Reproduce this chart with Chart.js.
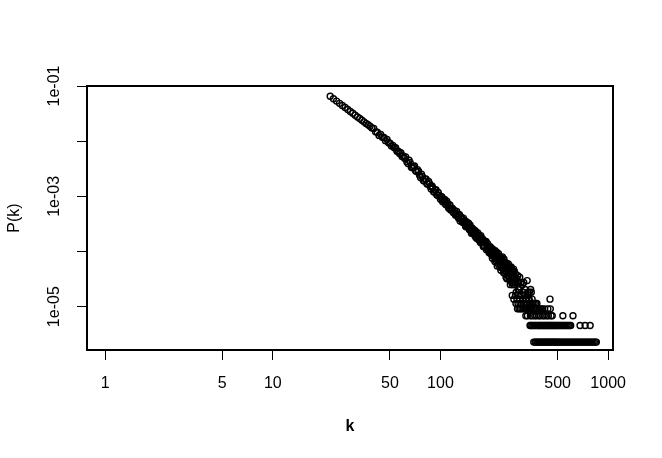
<!DOCTYPE html>
<html>
<head>
<meta charset="utf-8">
<script src="https://cdn.jsdelivr.net/npm/chart.js@4/dist/chart.umd.min.js"></script>
<style>
  html, body { margin: 0; padding: 0; background: #fff; }
  #wrap { width: 662px; height: 458px; position: relative; }
</style>
</head>
<body>
<div id="wrap"><canvas id="chart"></canvas></div>
<script>
// degree k and probability P(k)
const kMain = [
  22, 23, 24, 25, 26, 27, 28, 29, 30, 31, 32, 33, 34, 35, 36, 37, 38, 39, 40,
  41, 42, 43, 44, 45, 46, 47, 48, 49, 50, 51, 52, 53, 54, 55, 56, 57, 58, 59, 60,
  62, 64, 66, 68, 70, 72, 74, 76, 78, 80, 82, 84, 86, 88, 90, 92, 94, 96, 98, 100,
  102, 104, 106, 108, 110, 112, 114, 116, 118, 120,
  122, 124, 126, 128, 130, 132, 134, 136, 138, 140, 142, 144, 146, 148, 150,
  152, 154, 156, 158, 160, 162, 164, 166, 168, 170, 172, 174, 176, 178,
  180, 181, 183, 184, 186, 187, 189, 190, 192, 193, 195, 196, 198, 199,
  201, 203, 205, 207, 209, 211, 213, 215, 217, 219,
  221, 223, 225, 227, 229, 231, 233, 235, 237, 239,
  241, 243, 245, 247, 249, 251, 253, 255, 257, 259,
  261, 263, 265, 267, 269, 271, 273, 275, 277, 279,
  281, 283, 285, 287, 289, 291, 293, 295, 297, 299,
  302, 305, 308, 311, 314, 317, 320, 326, 329, 332, 336, 339, 345, 348
];
const pMain = [
  0.0650, 0.0587, 0.0532, 0.0485, 0.0444, 0.0407, 0.0374, 0.0345, 0.0320, 0.0296,
  0.0275, 0.0257, 0.0240, 0.0224, 0.0210, 0.0198, 0.0186, 0.0174, 0.01703,
  0.01475, 0.01452, 0.01273, 0.01324, 0.01177, 0.01164, 0.01022, 0.01074, 0.00939, 0.00920,
  0.00817, 0.00839, 0.00758, 0.00758, 0.00657, 0.00661, 0.00598, 0.00615, 0.00530, 0.00540,
  0.005188, 0.003944, 0.004089, 0.003295, 0.003555, 0.002818, 0.002853, 0.002194, 0.002282, 0.001891,
  0.002069, 0.001662, 0.001703, 0.001358, 0.001429, 0.001197, 0.001324, 0.001050, 0.001051, 0.000885,
  0.000977, 0.000837, 0.000882, 0.000701, 0.000749, 0.000610, 0.000692, 0.000582, 0.000605, 0.000505,
  5.42e-4, 4.68e-4, 4.73e-4, 4.07e-4, 4.58e-4, 3.93e-4, 3.95e-4, 3.38e-4, 3.37e-4, 3.60e-4,
  2.82e-4, 3.18e-4, 2.92e-4, 2.59e-4, 3.04e-4,
  2.44e-4, 2.67e-4, 2.11e-4, 2.29e-4, 2.04e-4, 2.34e-4, 1.74e-4, 2.01e-4, 1.82e-4, 1.93e-4,
  1.56e-4, 1.94e-4, 1.53e-4, 1.53e-4,
  1.23e-4, 1.55e-4, 1.51e-4, 1.21e-4, 1.49e-4, 1.52e-4, 1.14e-4, 1.19e-4, 1.23e-4, 1.22e-4,
  9.5e-5, 9.75e-5, 1.22e-4, 1.07e-4,
  1.07e-4, 8.45e-5, 1.10e-4, 8.68e-5, 9.13e-5, 6.62e-5, 9.13e-5, 7.31e-5, 9.59e-5, 7.31e-5,
  5.94e-5, 8.22e-5, 6.39e-5, 7.08e-5, 4.57e-5, 7.76e-5, 5.25e-5, 6.39e-5, 5.48e-5, 7.31e-5,
  4.11e-5, 5.25e-5, 4.34e-5, 5.71e-5, 3.20e-5, 5.02e-5, 4.11e-5, 5.25e-5, 3.42e-5, 4.34e-5,
  2.51e-5, 5.02e-5, 3.42e-5, 4.34e-5, 2.51e-5, 3.42e-5, 4.79e-5, 2.51e-5, 3.42e-5, 2.74e-5,
  3.88e-5, 1.83e-5, 3.20e-5, 2.74e-5, 3.65e-5, 2.05e-5, 2.74e-5, 2.05e-5, 3.42e-5, 2.28e-5,
  2.74e-5, 1.60e-5, 2.51e-5, 1.83e-5, 2.74e-5, 1.60e-5, 2.05e-5, 1.37e-5, 2.97e-5, 1.83e-5,
  1.37e-5, 1.83e-5, 2.05e-5, 1.83e-5
];

// the degrees in between, where the band gets thick
const kMid = [
  61, 63, 65, 67, 69, 71, 73, 75, 77, 79, 81, 83, 85, 87, 89, 91, 93, 95, 97, 99,
  101, 103, 105, 107, 109, 111, 113, 115, 117, 119, 121,
  123, 125, 127, 129, 131, 133, 135, 137, 139, 141, 143, 145, 147, 149,
  151, 153, 155, 157, 159, 161, 163, 165, 167, 169, 171, 173, 175, 177,
  179, 182, 185, 188, 191, 194, 197,
  200, 202, 204, 206, 208, 210, 212, 214, 216, 218,
  220, 222, 224, 226, 228, 230, 232, 234, 236, 238,
  240, 242, 244, 246, 248, 250, 252, 254, 256, 258,
  260, 262, 264, 266, 270, 272, 276, 278, 284
];
const pMid = [
  0.004907, 0.004254, 0.004506, 0.003351, 0.003442, 0.002918, 0.003053, 0.002427, 0.002524, 0.001928,
  0.002034, 0.001690, 0.001855, 0.001513, 0.001537, 0.001214, 0.001297, 0.001064, 0.001177, 0.000971,
  0.000995, 0.000796, 0.000849, 0.000730, 0.000816, 0.000664, 0.000703, 0.000566, 0.000594, 0.000513, 0.000552,
  4.56e-4, 5.33e-4, 4.32e-4, 4.71e-4, 3.56e-4, 4.18e-4, 3.43e-4, 4.03e-4, 3.30e-4, 2.89e-4,
  3.43e-4, 2.79e-4, 3.25e-4, 2.47e-4,
  2.69e-4, 2.14e-4, 2.59e-4, 2.19e-4, 2.47e-4, 1.87e-4, 2.15e-4, 1.82e-4, 2.16e-4, 1.63e-4,
  1.78e-4, 1.46e-4, 1.78e-4, 1.51e-4,
  1.68e-4, 1.24e-4, 1.44e-4, 1.08e-4, 1.39e-4, 1.04e-4, 1.13e-4,
  9.13e-5, 1.14e-4, 7.53e-5, 9.59e-5, 1.03e-4, 7.99e-5, 1.03e-4, 6.85e-5, 7.99e-5, 5.48e-5,
  7.99e-5, 9.13e-5, 6.62e-5, 5.25e-5, 7.53e-5, 6.85e-5, 5.02e-5, 7.99e-5, 5.48e-5, 4.11e-5,
  5.94e-5, 6.39e-5, 4.57e-5, 3.42e-5, 6.16e-5, 4.79e-5, 3.65e-5, 5.94e-5, 3.88e-5, 4.79e-5,
  2.97e-5, 4.11e-5, 5.25e-5, 2.74e-5, 4.34e-5, 2.74e-5, 4.34e-5, 2.74e-5, 3.20e-5
];

// tail: degrees seen only a few times, one list per P level
const rowP = [2.28e-6, 4.57e-6, 6.85e-6, 9.13e-6, 1.14e-5, 1.37e-5, 1.60e-5];
const kSeen1 = [360, 367, 371, 378, 384, 390, 395, 402, 407, 414, 420, 427, 433, 439, 446, 453,
  459, 466, 472, 479, 486, 494, 501, 509, 517, 526, 535, 544, 554, 564, 574, 584, 594, 604,
  614, 625, 636, 647, 658, 670, 682, 694, 706, 719, 732, 745, 758, 771, 785, 799, 813, 827, 841, 851];
const kSeen2 = [342, 346, 351, 357, 363, 368, 375, 382, 387, 392, 399, 404, 411, 417, 423, 430,
  436, 443, 448, 455, 461, 468, 475, 482, 490, 498, 506, 514, 523, 532, 541, 550, 560, 569,
  579, 589, 598, 680, 729, 781];
const kSeen3 = [323, 330, 344, 353, 365, 373, 386, 393, 408, 416, 431, 440, 457, 464, 537, 617];
const kSeen4 = [288, 294, 300, 306, 313, 321, 327, 335, 343, 349, 358, 366, 372, 381, 389, 397, 405, 418, 437, 452];
const kSeen5 = [282, 290, 298, 304, 312, 319, 325, 331, 341, 347, 355, 362, 370, 376];
const kSeen6 = [274, 286, 296, 310, 322, 338, 352, 450];
const kSeen7 = [268, 280, 292, 318, 334];

const xTicks = [1, 5, 10, 50, 100, 500, 1000];
const xTickLabels = ["1", "5", "10", "50", "100", "500", "1000"];
const yTicks = [1e-5, 1e-4, 1e-3, 1e-2, 1e-1];
const yTickLabels = ["1e-05", "", "1e-03", "", "1e-01"];
const xMin = 0.78, xMax = 1069;
const yMin = 1.64e-6, yMax = 0.1;

const points = kMain.map((k, i) => ({ x: k, y: pMain[i] }))
  .concat(kMid.map((k, i) => ({ x: k, y: pMid[i] })));
[kSeen1, kSeen2, kSeen3, kSeen4, kSeen5, kSeen6, kSeen7].forEach((ks, r) => {
  ks.forEach(k => points.push({ x: k, y: rowP[r] }));
});
if (kMain.length !== pMain.length || kMid.length !== pMid.length) {
  console.error("length mismatch", kMain.length, pMain.length, kMid.length, pMid.length);
}

const font = "'Liberation Sans', Arial, Helvetica, sans-serif";

const plotBox = {
  id: "plotBox",
  afterDraw(chart) {
    const { ctx, chartArea: a } = chart;
    ctx.save();
    ctx.strokeStyle = "#000";
    ctx.lineWidth = 2;
    ctx.strokeRect(a.left, a.top, a.right - a.left, a.bottom - a.top);
    ctx.restore();
  }
};

new Chart(document.getElementById("chart"), {
  type: "scatter",
  data: {
    datasets: [{
      data: points,
      pointStyle: "circle",
      pointRadius: 3,
      pointHoverRadius: 3,
      borderWidth: 1.4,
      borderColor: "#000",
      backgroundColor: "rgba(0,0,0,0)"
    }]
  },
  options: {
    responsive: true,
    maintainAspectRatio: false,
    animation: false,
    events: [],
    layout: { padding: { top: 86, right: 49, bottom: 0, left: 0 } },
    plugins: { legend: { display: false }, tooltip: { enabled: false } },
    scales: {
      x: {
        type: "logarithmic",
        position: "bottom",
        min: xMin,
        max: xMax,
        afterBuildTicks: (s) => { s.ticks = xTicks.map(v => ({ value: v })); },
        afterFit: (s) => { s.height = 108; },
        ticks: {
          autoSkip: false, minRotation: 0, maxRotation: 0, padding: 14, color: "#000",
          font: { family: font, size: 16 },
          callback: (v, i) => xTickLabels[i]
        },
        grid: { drawOnChartArea: false, drawTicks: true, tickLength: 10, color: "#000", lineWidth: 1 },
        border: { display: false },
        title: {
          display: true, text: "k", color: "#000",
          font: { family: font, size: 16, weight: "bold" },
          padding: { top: 0, bottom: 22 }
        }
      },
      y: {
        type: "logarithmic",
        position: "left",
        min: yMin,
        max: yMax,
        afterBuildTicks: (s) => { s.ticks = yTicks.map(v => ({ value: v })); },
        afterFit: (s) => { s.width = 87; },
        ticks: {
          autoSkip: false, minRotation: 90, maxRotation: 90, crossAlign: "center", padding: 2, color: "#000",
          font: { family: font, size: 16 },
          callback: (v, i) => yTickLabels[i]
        },
        grid: { drawOnChartArea: false, drawTicks: true, tickLength: 10, color: "#000", lineWidth: 1 },
        border: { display: false },
        title: {
          display: true, text: "P(k)", color: "#000",
          font: { family: font, size: 16 },
          padding: { top: 5, bottom: 0 }
        }
      }
    }
  },
  plugins: [plotBox]
});
</script>
</body>
</html>
